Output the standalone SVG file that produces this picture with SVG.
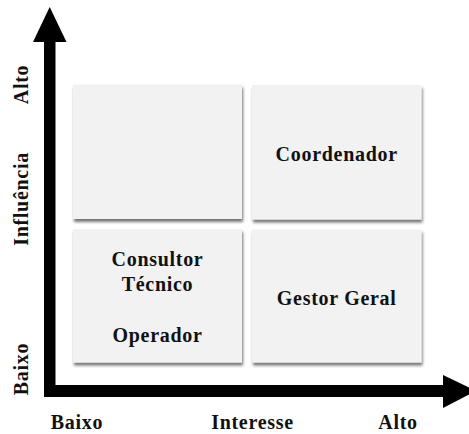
<svg xmlns="http://www.w3.org/2000/svg" width="469" height="434" viewBox="0 0 469 434">
  <style>
    .box { fill: #f2f2f2; filter: url(#shadow); }
    .lbl { font-family: "Liberation Serif", "Times New Roman", serif; font-weight: bold; font-size: 20px; letter-spacing: 0.7px; fill: #111; text-anchor: middle; }
    .axis { fill: #000; }
  </style>
  <defs>
    <filter id="shadow" x="-10%" y="-10%" width="125%" height="125%">
      <feGaussianBlur in="SourceAlpha" stdDeviation="1.6"/>
      <feOffset dx="1" dy="2.5" result="off"/>
      <feComponentTransfer><feFuncA type="linear" slope="0.55"/></feComponentTransfer>
      <feMerge><feMergeNode/><feMergeNode in="SourceGraphic"/></feMerge>
    </filter>
  </defs>
  <rect width="469" height="434" fill="#fff"/>

  <!-- quadrant boxes -->
  <g id="q-top-left">
    <rect class="box" x="73" y="84.5" width="169" height="134.5"/>
  </g>
  <g id="q-top-right">
    <rect class="box" x="252" y="85" width="169.5" height="134.5"/>
    <text class="lbl" x="336.7" y="160.5">Coordenador</text>
  </g>
  <g id="q-bottom-left">
    <rect class="box" x="73" y="229" width="169" height="133.5"/>
    <text class="lbl" x="157.5" y="266">Consultor</text>
    <text class="lbl" x="157.5" y="290.5">Técnico</text>
    <text class="lbl" x="157.5" y="342">Operador</text>
  </g>
  <g id="q-bottom-right">
    <rect class="box" x="252" y="229.5" width="169.5" height="133"/>
    <text class="lbl" x="336.7" y="304.5">Gestor Geral</text>
  </g>

  <!-- axes -->
  <g id="connectors">
    <rect class="axis" x="44" y="40" width="11.5" height="357"/>
    <polygon class="axis" points="33,42 49.7,7 66.5,42"/>
    <rect class="axis" x="44" y="385" width="401" height="12"/>
    <polygon class="axis" points="443,375 476,391 443,408"/>
  </g>

  <!-- axis labels -->
  <g id="axis-labels">
    <text class="lbl" transform="translate(28,84.5) rotate(-90)">Alto</text>
    <text class="lbl" transform="translate(28,199) rotate(-90)">Influência</text>
    <text class="lbl" transform="translate(28,369) rotate(-90)">Baixo</text>
    <text class="lbl" x="77" y="429">Baixo</text>
    <text class="lbl" x="252.5" y="429">Interesse</text>
    <text class="lbl" x="398" y="429">Alto</text>
  </g>
</svg>
